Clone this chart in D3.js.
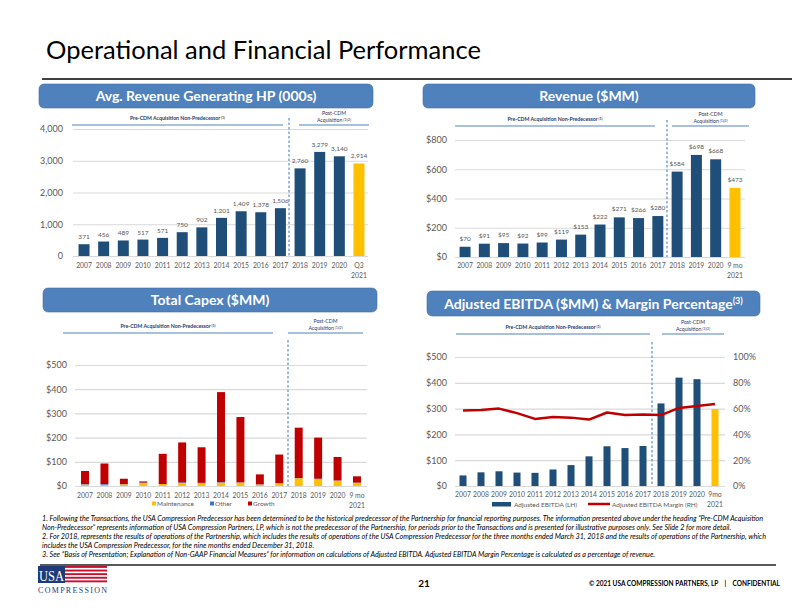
<!DOCTYPE html>
<html><head><meta charset="utf-8">
<script src="https://cdn.jsdelivr.net/npm/d3@7"></script>
<style>body{margin:0;background:#fff}svg{display:block;font-family:Lato,"Open Sans",sans-serif}</style>
</head><body><svg id="c" width="792" height="612"></svg>
<script>
// ---------- DATA ----------
const years = ["2007","2008","2009","2010","2011","2012","2013","2014","2015","2016","2017","2018","2019","2020"];
const hpLastLabel = "Q3|2021";
const moLastLabel = "9 mo|2021";
const ebitdaLastLabel = "9mo|2021";
const hpValues = [371,456,489,517,571,750,902,1201,1409,1378,1506,2760,3279,3140,2914];
const hpTicks = [0,1000,2000,3000,4000];
const revValues = [70,91,95,92,99,119,153,222,271,266,280,584,698,668,473];
const revTicks = [0,200,400,600,800];
const capexMaintenance = [6,5,7,12,8,12,12,14,14,6,11,32,29,22,13];
const capexOther = [2,3,1,2,0,3,1,2,1,1,1,1,1,1,1];
const capexGrowth = [54,85,22,5,125,165,147,372,270,41,118,208,170,97,26];
const capexTicks = [0,100,200,300,400,500];
const capexSeries = ["Maintenance","Other","Growth"];
const ebitdaValues = [41,53,57,52,51,64,81,115,154,147,155,320,420,414,298];
const marginValues = [58.5,59,60,56.5,52,53.5,53,51.5,57,55,55.5,55,60.5,62,63.5];
const ebitdaTicks = [0,100,200,300,400,500];
const marginTicks = [0,20,40,60,80,100];
const preLabel = "Pre-CDM Acquisition Non-Predecessor";
const postLabel1 = "Post-CDM";
const postLabel2 = "Acquisition";
const footnotes = [
 "1.  Following the Transactions, the USA Compression Predecessor has been determined to be the historical predecessor of the Partnership for financial reporting purposes. The information presented above under the heading \u201cPre-CDM Acquisition",
 "Non-Predecessor\u201d represents information of USA Compression Partners, LP, which is not the predecessor of the Partnership, for periods prior to the Transactions and is presented for illustrative purposes only. See Slide 2 for more detail.",
 "2.  For 2018, represents the results of operations of the Partnership, which includes the results of operations of the USA Compression Predecessor for the three months ended March 31, 2018 and the results of operations of the Partnership, which",
 "includes the USA Compression Predecessor, for the nine months ended December 31, 2018.",
 "3.  See \u201cBasis of Presentation; Explanation of Non-GAAP Financial Measures\u201d for information on calculations of Adjusted EBITDA. Adjusted EBITDA Margin Percentage is calculated as a percentage of revenue."
];

// ---------- STYLE ----------
const NAVY = "#1F4E79", GOLD = "#FFC000", RED = "#C00000", OTHER = "#4472C4";
const HEAD = "#4F81BD", GRID = "#D9D9D9", TXT = "#595959", LINEBLUE = "#4F81BD";
const svg = d3.select("#c");

// Title
svg.append("text").attr("x",46).attr("y",59).attr("font-size",25.5).attr("fill","#000")
  .text("Operational and Financial Performance");
svg.append("line").attr("x1",42).attr("x2",792).attr("y1",79).attr("y2",79).attr("stroke","#000").attr("stroke-width",1.3);

function header(x0,x1,y0,y1,title,sup){
  svg.append("rect").attr("x",x0).attr("y",y0).attr("width",x1-x0).attr("height",y1-y0)
    .attr("rx",5).attr("fill",HEAD).attr("stroke","#3f6fa8").attr("stroke-width",0.6);
  const t = svg.append("text").attr("x",(x0+x1)/2).attr("y",(y0+y1)/2+5).attr("text-anchor","middle")
    .attr("font-size",14).attr("font-weight","bold").attr("fill","#fff").text(title);
  if(sup) t.append("tspan").attr("font-size",9).attr("dy",-5).text(sup);
}

function sections(g, cfg){
  g.append("text").attr("x",(cfg.preX0+cfg.preX1)/2).attr("y",cfg.lineY-5).attr("text-anchor","middle")
    .attr("font-size",5.2).attr("font-weight","bold").attr("fill","#1F3864")
    .text(preLabel).append("tspan").attr("font-size",3.5).attr("dy",-1.5).text(" (1)");
  g.append("line").attr("x1",cfg.preX0).attr("x2",cfg.preX1).attr("y1",cfg.lineY).attr("y2",cfg.lineY)
    .attr("stroke",LINEBLUE).attr("stroke-width",1.1);
  const pc = (cfg.postX0+cfg.postX1)/2;
  g.append("text").attr("x",pc).attr("y",cfg.lineY-10).attr("text-anchor","middle")
    .attr("font-size",5.2).attr("fill","#1F3864").text(postLabel1);
  g.append("text").attr("x",pc).attr("y",cfg.lineY-3).attr("text-anchor","middle")
    .attr("font-size",5.2).attr("fill","#1F3864").text(postLabel2)
    .append("tspan").attr("font-size",3.5).attr("dy",-1.5).text(" (1)(2)");
  g.append("line").attr("x1",cfg.postX0).attr("x2",cfg.postX1).attr("y1",cfg.lineY).attr("y2",cfg.lineY)
    .attr("stroke",LINEBLUE).attr("stroke-width",1.1);
  g.append("line").attr("x1",cfg.dashX).attr("x2",cfg.dashX).attr("y1",cfg.dashY0).attr("y2",cfg.dashY1)
    .attr("stroke","#5B8FD0").attr("stroke-width",1.2).attr("stroke-dasharray","2.5,2");
}

function xLabels(g, x, cats, y, fs){
  cats.forEach(c=>{
    const parts = c.split("|");
    parts.forEach((p,i)=>{
      g.append("text").attr("x",x(c)+x.bandwidth()/2).attr("y",y+i*9.5).attr("text-anchor","middle")
        .attr("font-size",fs).attr("fill",TXT).text(p);
    });
  });
}

function yAxis(g, y, ticks, xLab, xg0, xg1, fmt, fs){
  const ax = d3.axisLeft(y).tickValues(ticks).tickFormat(fmt).tickSize(xg1-xg0).tickPadding(xg0-xLab);
  const a = g.append("g").attr("transform",`translate(${xg1},0)`).call(ax);
  a.select(".domain").remove();
  a.selectAll(".tick line").attr("stroke",GRID).attr("stroke-width",1.2);
  a.selectAll(".tick text").attr("font-size",fs).attr("fill",TXT).attr("font-family","Lato,sans-serif");
  return a;
}

// ---------- CHART 1: HP ----------
header(39,373,84,108,"Avg. Revenue Generating HP (000s)");
{
  const g = svg.append("g");
  const cats = years.concat([hpLastLabel]);
  const x = d3.scaleBand().domain(cats).range([74.2,368.8]).paddingInner(0.44).paddingOuter(0.22);
  const y = d3.scaleLinear().domain([0,4000]).range([256,129]);
  yAxis(g,y,hpTicks,63,73,368,d3.format(","),9);
  sections(g,{preX0:72,preX1:283,postX0:299,postX1:369,lineY:125,dashX:289,dashY0:118,dashY1:256});
  g.selectAll("rect.b").data(hpValues).enter().append("rect")
    .attr("x",(d,i)=>x(cats[i])).attr("width",x.bandwidth())
    .attr("y",d=>y(d)).attr("height",d=>y(0)-y(d))
    .attr("fill",(d,i)=>i===cats.length-1?GOLD:NAVY);
  g.selectAll("text.v").data(hpValues).enter().append("text")
    .attr("x",(d,i)=>x(cats[i])+x.bandwidth()/2).attr("y",d=>y(d)-5).attr("text-anchor","middle")
    .attr("font-size",6.5).attr("fill",TXT).text(d3.format(","));
  xLabels(g,x,cats,268,6.8);
}

// ---------- CHART 2: Revenue ----------
header(423,755,84,108,"Revenue ($MM)");
{
  const g = svg.append("g");
  const cats = years.concat([moLastLabel]);
  const x = d3.scaleBand().domain(cats).range([455.4,744.6]).paddingInner(0.43).paddingOuter(0.215);
  const y = d3.scaleLinear().domain([0,800]).range([257,140]);
  yAxis(g,y,revTicks,447,455,745,d=>"$"+d,9);
  sections(g,{preX0:455,preX1:655,postX0:672,postX1:749,lineY:126,dashX:667,dashY0:120,dashY1:257});
  g.selectAll("rect.b").data(revValues).enter().append("rect")
    .attr("x",(d,i)=>x(cats[i])).attr("width",x.bandwidth())
    .attr("y",d=>y(d)).attr("height",d=>y(0)-y(d))
    .attr("fill",(d,i)=>i===cats.length-1?GOLD:NAVY);
  g.selectAll("text.v").data(revValues).enter().append("text")
    .attr("x",(d,i)=>x(cats[i])+x.bandwidth()/2).attr("y",d=>y(d)-6).attr("text-anchor","middle")
    .attr("font-size",6.5).attr("fill",TXT).text(d=>"$"+d);
  xLabels(g,x,cats,268,6.8);
}

// ---------- CHART 3: Capex ----------
header(43,377,288,312,"Total Capex ($MM)");
{
  const g = svg.append("g");
  const cats = years.concat([moLastLabel]);
  const x = d3.scaleBand().domain(cats).range([75.3,366.7]).paddingInner(0.59).paddingOuter(0.295);
  const y = d3.scaleLinear().domain([0,500]).range([486,365]);
  yAxis(g,y,capexTicks,67,75,367,d=>"$"+d,9);
  sections(g,{preX0:63,preX1:273,postX0:288,postX1:363,lineY:333,dashX:288,dashY0:340,dashY1:486});
  const rows = cats.map((c,i)=>({cat:c,Maintenance:capexMaintenance[i],Other:capexOther[i],Growth:capexGrowth[i]}));
  const stack = d3.stack().keys(capexSeries)(rows);
  const col = d3.scaleOrdinal().domain(capexSeries).range([GOLD,OTHER,RED]);
  g.selectAll("g.s").data(stack).enter().append("g").attr("fill",d=>col(d.key))
    .selectAll("rect").data(d=>d).enter().append("rect")
    .attr("x",d=>x(d.data.cat)).attr("width",x.bandwidth())
    .attr("y",d=>y(d[1])).attr("height",d=>y(d[0])-y(d[1]));
  xLabels(g,x,cats,498,6.8);
  const legX = [152,210,248];
  capexSeries.forEach((s,i)=>{
    g.append("rect").attr("x",legX[i]).attr("y",501.5).attr("width",4).attr("height",4).attr("fill",col(s));
    g.append("text").attr("x",legX[i]+5).attr("y",506).attr("font-size",6.5).attr("fill",TXT).text(s);
  });
}

// ---------- CHART 4: EBITDA ----------
header(427,760,291,316,"Adjusted EBITDA ($MM) & Margin Percentage","(3)");
{
  const g = svg.append("g");
  const cats = years.concat([ebitdaLastLabel]);
  const x = d3.scaleBand().domain(cats).range([454,724]).paddingInner(0.61).paddingOuter(0.305);
  const y = d3.scaleLinear().domain([0,500]).range([486,357]);
  const y2 = d3.scaleLinear().domain([0,100]).range([486,357]);
  yAxis(g,y,ebitdaTicks,447,455,725,d=>"$"+d,9);
  const ar = d3.axisRight(y2).tickValues(marginTicks).tickFormat(d=>d+"%").tickSize(0).tickPadding(8);
  const a2 = g.append("g").attr("transform","translate(725,0)").call(ar);
  a2.select(".domain").remove();
  a2.selectAll(".tick text").attr("font-size",9).attr("fill",TXT).attr("font-family","Lato,sans-serif");
  sections(g,{preX0:456,preX1:650,postX0:662,postX1:724,lineY:334,dashX:652,dashY0:342,dashY1:486});
  g.selectAll("rect.b").data(ebitdaValues).enter().append("rect")
    .attr("x",(d,i)=>x(cats[i])).attr("width",x.bandwidth())
    .attr("y",d=>y(d)).attr("height",d=>y(0)-y(d))
    .attr("fill",(d,i)=>i===cats.length-1?GOLD:NAVY);
  const line = d3.line().x((d,i)=>x(cats[i])+x.bandwidth()/2).y(d=>y2(d));
  g.append("path").datum(marginValues).attr("d",line).attr("fill","none")
    .attr("stroke",RED).attr("stroke-width",2.5).attr("stroke-linejoin","round");
  xLabels(g,x,cats,497,6.8);
  g.append("rect").attr("x",492).attr("y",502).attr("width",19).attr("height",4.5).attr("fill",NAVY);
  g.append("text").attr("x",514).attr("y",506.5).attr("font-size",6.5).attr("fill",TXT).text("Adjusted EBITDA (LH)");
  g.append("line").attr("x1",588).attr("x2",610).attr("y1",504).attr("y2",504).attr("stroke",RED).attr("stroke-width",2.5);
  g.append("text").attr("x",612).attr("y",506.5).attr("font-size",6.5).attr("fill",TXT).text("Adjusted EBITDA Margin (RH)");
}

// ---------- FOOTNOTES ----------
const fnY = [521,530,539,548,556.5];
const fnTexts = footnotes.map((t,i)=>svg.append("text").attr("x",42).attr("y",fnY[i]).attr("font-size",5.6)
    .attr("font-style","italic").attr("fill","#000").text(t));
// scale font so the first (full-width) line spans to the right margin
const w0 = fnTexts[0].node().getComputedTextLength();
const fs = 5.6 * (722 / w0);
fnTexts.forEach(t=>t.attr("font-size",fs));
svg.append("line").attr("x1",40).attr("x2",776).attr("y1",565).attr("y2",565).attr("stroke","#222").attr("stroke-width",1.6);

// ---------- FOOTER ----------
{
  const lg = svg.append("g");
  lg.append("rect").attr("x",38).attr("y",566).attr("width",27).attr("height",17).attr("fill","#1F3A78");
  for(let k=0;k<5;k++){
    lg.append("rect").attr("x",65).attr("y",566+k*3.6).attr("width",42).attr("height",1.9).attr("fill","#C8102E");
  }
  lg.append("text").attr("x",51.5).attr("y",581).attr("text-anchor","middle").attr("font-family","Liberation Serif,serif")
    .attr("font-size",15).attr("fill","#fff").attr("textLength",25).attr("lengthAdjust","spacingAndGlyphs").text("USA");
  lg.append("text").attr("x",38).attr("y",593).attr("font-family","Liberation Serif,serif")
    .attr("font-size",8).attr("fill","#1F3A78").attr("textLength",69).attr("lengthAdjust","spacing").text("COMPRESSION");
  svg.append("text").attr("x",424).attr("y",587).attr("text-anchor","middle").attr("font-size",10)
    .attr("font-weight","bold").attr("fill","#000").text("21");
  svg.append("text").attr("x",780).attr("y",586).attr("text-anchor","end").attr("font-size",6.5)
    .attr("font-weight","bold").attr("fill","#000").attr("xml:space","preserve")
    .text("\u00A9 2021 USA COMPRESSION PARTNERS, LP    |    CONFIDENTIAL");
}
</script></body></html>
